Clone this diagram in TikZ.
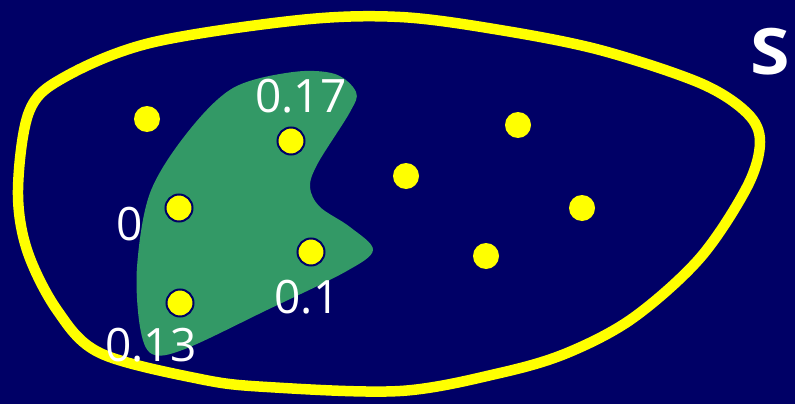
\documentclass[tikz,border=0pt]{standalone}
\usepackage{fontspec}
\setmainfont{Open Sans}
\definecolor{bgnavy}{HTML}{000066}
\definecolor{blobgreen}{HTML}{339966}
\definecolor{dotyellow}{HTML}{FFFF00}
\begin{document}
\begin{tikzpicture}[x=1pt,y=-1pt,
  plaindot/.style={circle,fill=dotyellow,inner sep=0pt,minimum size=26pt},
  ringdot/.style={circle,fill=dotyellow,draw=bgnavy,line width=2pt,inner sep=0pt,minimum size=27pt},
  val/.style={text=white,font=\fontsize{46}{46}\selectfont,inner sep=0pt}]
\fill[bgnavy] (0,0) rectangle (795,404);
\useasboundingbox (0,0) rectangle (795,404);
% outer set S
\draw[dotyellow,line width=10.5pt] plot[smooth cycle,tension=0.55] coordinates {
 (18,190) (29,112) (63,78) (150,43) (300,20) (400,17) (500,30) (600,50) (700,83) (747,113) (760,142)
 (747,187) (700,258) (633,318) (567,353) (500,373) (400,391) (267,387) (200,379) (100,353) (57,310) (27,250)};
% green blob
\fill[blobgreen] plot[smooth cycle,tension=0.55] coordinates {
 (293,72) (233,88) (187,133) (150,193) (137,267) (140,327) (152,354) (185,349) (267,310) (345,272) (373,250)
 (350,227) (320,207) (310,187) (318,163) (350,112) (356,92) (335,74)};
% dots
\node[plaindot] (p1) at (147,119) {};
\node[plaindot] (p2) at (406,176) {};
\node[plaindot] (p3) at (518,125) {};
\node[plaindot] (p4) at (582,208) {};
\node[plaindot] (p5) at (486,256) {};
\node[ringdot] (q1) at (291,141) {};
\node[ringdot] (q2) at (179,208) {};
\node[ringdot] (q3) at (311,252) {};
\node[ringdot] (q4) at (180,303) {};
% labels
\node[val] (l1) at (301,96) {0.17};
\node[val] (l2) at (130,224) {0};
\node[val] (l3) at (307,297) {0.1};
\node[val] (l4) at (151,345) {0.13};
\node[text=white,font=\fontsize{64}{64}\selectfont\bfseries,inner sep=0pt,anchor=west,xscale=1.12] (s) at (750,52) {S};
\end{tikzpicture}
\end{document}
